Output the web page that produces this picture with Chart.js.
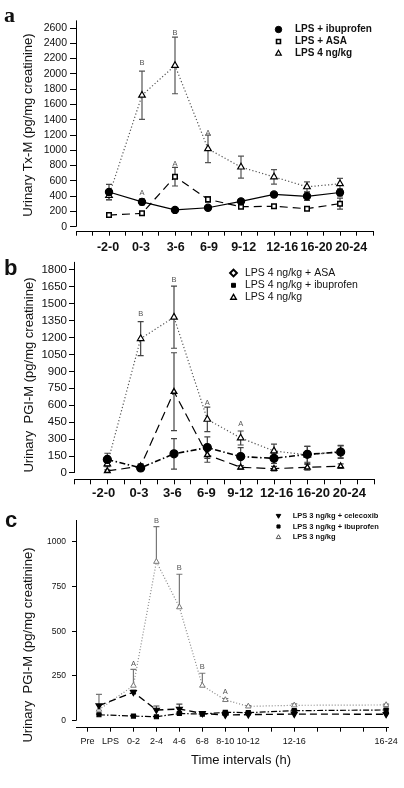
<!DOCTYPE html>
<html>
<head>
<meta charset="utf-8">
<script src="https://cdn.jsdelivr.net/npm/chart.js@4.4.1/dist/chart.umd.min.js"></script>
<style>
  html, body { margin: 0; padding: 0; background: #fff; }
  #wrap { position: relative; width: 404px; height: 788px; overflow: hidden;
          font-family: 'Liberation Sans', Arial, sans-serif; color: #111; }
  canvas { position: absolute; left: 0; top: 0; width: 404px; height: 788px; }
  .panel { position: absolute; font-weight: bold; font-size: 22px; line-height: 1; }
  .ytitle { position: absolute; font-size: 13px; white-space: pre; line-height: 1;
            transform: translate(-50%, -50%) rotate(-90deg); }
  .xtitle { position: absolute; font-size: 13px; line-height: 1; white-space: pre;
            transform: translate(-50%, -50%); }
</style>
</head>
<body>
<div id="wrap">
  <canvas id="chartA" width="404" height="788"></canvas>
  <canvas id="chartB" width="404" height="788"></canvas>
  <canvas id="chartC" width="404" height="788"></canvas>

  <div class="panel" style="left:4px;top:4px;font-family:'Liberation Serif',serif;">a</div>
  <div class="panel" style="left:4px;top:257px;">b</div>
  <div class="panel" style="left:5px;top:509px;">c</div>

  <div class="ytitle" style="left:27px;top:125px;">Urinary Tx-M (pg/mg creatinine)</div>
  <div class="ytitle" style="left:28px;top:375px;">Urinary  PGI-M (pg/mg creatinine)</div>
  <div class="ytitle" style="left:27px;top:645px;">Urinary  PGI-M (pg/mg creatinine)</div>
  <div class="xtitle" style="left:241px;top:759px;">Time intervals (h)</div>
</div>

<script>
const FONT = "'Liberation Sans', Arial, sans-serif";

// ── a : urinary Tx-M ─────────────────────────────────────────
const intervalsAB = ['-2-0', '0-3', '3-6', '6-9', '9-12', '12-16', '16-20', '20-24'];
const aLabelPos = [-0.03, 0.97, 2.02, 3.03, 4.08, 5.25, 6.29, 7.34];
const aIbu     = [455, 325, 220, 248, 332, 422, 398, 448];
const aIbuErr  = [100, 40, 15, 25, 25, 20, 55, 45];
const aAsa     = [152, 175, 655, 358, 262, 268, 236, 302];
const aAsaErr  = [15, 15, 122, 35, 20, 15, 15, 72];
const aLps     = [410, 1720, 2110, 1020, 780, 652, 522, 562];
const aLpsErr  = [60, 315, 370, 180, 145, 95, 65, 70];
const aTicksY  = [0, 200, 400, 600, 800, 1000, 1200, 1400, 1600, 1800, 2000, 2200, 2400, 2600];
const aLetters = [
  { x: 1, y: 2140, t: 'B' }, { x: 2, y: 2530, t: 'B' }, { x: 3, y: 1230, t: 'A' },
  { x: 2, y: 820, t: 'A' },  { x: 1, y: 437, t: 'A' },
];

// ── b : urinary PGI-M, 4 ng/kg ───────────────────────────────
const bLabelPos = [-0.11, 0.95, 1.95, 2.97, 3.99, 5.08, 6.18, 7.26];
const bAsa     = [18, 60, 720, 160, 50, 38, 50, 60];
const bAsaErr  = [10, 20, 345, 65, 15, 20, 25, 20];
const bIbu     = [120, 45, 170, 225, 145, 130, 165, 185];
const bIbuErr  = [55, 25, 135, 95, 80, 45, 70, 55];
const bLps     = [80, 1190, 1380, 475, 310, 195, 160, 190];
const bLpsErr  = [25, 150, 275, 108, 62, 60, 75, 55];
const bTicksY  = [0, 150, 300, 450, 600, 750, 900, 1050, 1200, 1350, 1500, 1650, 1800];
const bLetters = [
  { x: 1, y: 1406, t: 'B' }, { x: 2, y: 1710, t: 'B' },
  { x: 3, y: 617, t: 'A' },  { x: 4, y: 434, t: 'A' },
];

// ── c : urinary PGI-M, 3 ng/kg (x in hours) ──────────────────
const cHours      = [-1, 2, 4, 6, 8, 10, 12, 16, 24];
const cCele       = [84, 159, 60, 65, 41, 32, 34, 37, 36];
const cCeleErr    = [0, 12, 22, 28, 5, 5, 5, 6, 5];
const cIbu        = [33, 26, 22, 40, 37, 47, 45, 56, 60];
const cIbuErr     = [4, 4, 4, 6, 4, 5, 5, 6, 6];
const cLps        = [62, 196, 888, 634, 196, 116, 80, 86, 88];
const cLpsErr     = [85, 91, 196, 184, 69, 8, 5, 8, 5];
const cTicksY     = [0, 250, 500, 750, 1000];
const cLabelHours = [-2, 0, 2, 4, 6, 8, 10, 12, 16, 24];
const cLabelText  = ['Pre', 'LPS', '0-2', '2-4', '4-6', '6-8', '8-10', '10-12', '12-16', '16-24'];
const cLetters = [
  { x: 2, y: 315, t: 'A' }, { x: 4, y: 1118, t: 'B' }, { x: 6, y: 853, t: 'B' },
  { x: 8, y: 302, t: 'B' }, { x: 10, y: 159, t: 'A' },
];

const idxAB = intervalsAB.map((_, i) => i);
const pts = (xs, ys) => ys.map((y, i) => ({ x: xs[i], y }));

// tick marks (no text) + text ticks (no mark)
function xTickSet(marks, labelPos, labels) {
  const t = marks.map(v => ({ value: v }));
  if (labelPos) labelPos.forEach((v, i) => t.push({ value: v, text: labels[i] }));
  return t.sort((p, q) => p.value - q.value);
}
const abMarks = [];
for (let v = -1; v <= 8; v += 0.5) abMarks.push(v);
const cMarks = [];
for (let v = -2; v <= 24; v += 2) cMarks.push(v);

// ── plugins ──────────────────────────────────────────────────
const axisLines = {
  id: 'axisLines',
  beforeDatasetsDraw(chart) {
    const { ctx, chartArea: a, scales: { y } } = chart;
    ctx.save();
    ctx.strokeStyle = '#000';
    ctx.lineWidth = 1;
    ctx.beginPath();
    const lx = Math.round(a.left) + 0.5;
    ctx.moveTo(lx, a.top);
    ctx.lineTo(lx, y.getPixelForValue(0));
    const by = Math.round(a.bottom) + 0.5;
    ctx.moveTo(a.left, by);
    ctx.lineTo(a.right, by);
    ctx.stroke();
    ctx.restore();
  }
};

const errorBars = {
  id: 'errorBars',
  beforeDatasetsDraw(chart) {
    const { ctx, scales: { x, y } } = chart;
    ctx.save();
    chart.data.datasets.forEach(ds => {
      if (!ds.err) return;
      ctx.strokeStyle = ds.errColor || '#444';
      ctx.lineWidth = 1.2;
      ds.data.forEach((p, i) => {
        const e = ds.err[i];
        if (!e) return;
        const px = x.getPixelForValue(p.x);
        const top = y.getPixelForValue(p.y + e);
        const bot = y.getPixelForValue(ds.upOnly ? p.y : p.y - e);
        ctx.beginPath();
        ctx.moveTo(px, top); ctx.lineTo(px, bot);
        ctx.moveTo(px - 3, top); ctx.lineTo(px + 3, top);
        if (!ds.upOnly) { ctx.moveTo(px - 3, bot); ctx.lineTo(px + 3, bot); }
        ctx.stroke();
      });
    });
    ctx.restore();
  }
};

function miniLegend(cfg) {
  return {
    id: 'miniLegend',
    afterDraw(chart) {
      const ctx = chart.ctx;
      ctx.save();
      ctx.font = cfg.font;
      ctx.textBaseline = 'middle';
      cfg.items.forEach((it, i) => {
        const yy = cfg.y + i * cfg.dy;
        ctx.fillStyle = it.fill;
        ctx.strokeStyle = it.stroke;
        ctx.lineWidth = it.lw;
        Chart.helpers.drawPoint(ctx, { pointStyle: it.style, radius: it.r, rotation: it.rot || 0, borderWidth: it.lw }, cfg.mx, yy);
        ctx.fillStyle = '#111';
        ctx.fillText(it.label, cfg.tx, yy);
      });
      ctx.restore();
    }
  };
}

function sigLetters(items, font) {
  return {
    id: 'sigLetters',
    afterDatasetsDraw(chart) {
      const { ctx, scales: { x, y } } = chart;
      ctx.save();
      ctx.font = font;
      ctx.fillStyle = '#555';
      ctx.textAlign = 'center';
      ctx.textBaseline = 'middle';
      items.forEach(it => ctx.fillText(it.t, x.getPixelForValue(it.x), y.getPixelForValue(it.y)));
      ctx.restore();
    }
  };
}

function serie(xs, ys, err, o) {
  return {
    data: pts(xs, ys), err, upOnly: o.upOnly, errColor: o.errColor,
    borderColor: o.line || '#000', borderWidth: o.bw || 1.2, borderDash: o.dash || [],
    pointStyle: o.style, pointRadius: o.r, pointRotation: o.rot || 0,
    pointBackgroundColor: o.fill, pointBorderColor: o.stroke || '#000', pointBorderWidth: o.pbw || 1.2,
    fill: false, tension: 0,
  };
}

function makeChart(id, c) {
  return new Chart(document.getElementById(id), {
    type: 'line',
    data: { datasets: c.datasets },
    options: {
      responsive: false, animation: false, events: [],
      layout: { padding: c.padding },
      plugins: { legend: { display: false }, tooltip: { enabled: false } },
      scales: {
        x: {
          type: 'linear', min: c.xMin, max: c.xMax,
          afterBuildTicks: s => { s.ticks = c.xTicks.map(t => ({ ...t })); },
          afterFit: s => { s.height = 30; },
          ticks: { autoSkip: false, maxRotation: 0, minRotation: 0, padding: c.xPad, color: '#111',
                   font: c.xFont, callback: (v, i, ticks) => ticks[i].text || '' },
          grid: { drawOnChartArea: false, tickLength: 5, lineWidth: 1,
                  color: ctx => (ctx.tick && ctx.tick.text && !c.xMarkText) ? 'rgba(0,0,0,0)' : '#000' },
          border: { display: false },
        },
        y: {
          min: c.yMin, max: c.yMax,
          afterBuildTicks: s => { s.ticks = c.yTicks.map(v => ({ value: v })); },
          afterFit: s => { s.width = c.yWidth; },
          ticks: { autoSkip: false, padding: c.yPad, color: '#111', font: c.yFont, callback: v => String(v) },
          grid: { drawOnChartArea: false, tickLength: c.yTick, color: '#000', lineWidth: 1 },
          border: { display: false },
        },
      },
    },
    plugins: [axisLines, errorBars, miniLegend(c.legend), sigLetters(c.letters, c.letterFont)],
  });
}

// ── chart a ──
makeChart('chartA', {
  datasets: [
    serie(idxAB, aIbu, aIbuErr, { style: 'circle', r: 3.6, fill: '#000' }),
    serie(idxAB, aAsa, aAsaErr, { style: 'rect', r: 3.2, fill: '#fff', dash: [8, 5], pbw: 1.5 }),
    serie(idxAB, aLps, aLpsErr, { style: 'triangle', r: 3.8, fill: '#fff', line: '#555', dash: [1.2, 2.2], errColor: '#555' }),
  ],
  padding: { left: 0, right: 31, top: 20.4, bottom: 527.3 },
  xMin: -1, xMax: 8, xTicks: xTickSet(abMarks, aLabelPos, intervalsAB), xPad: 4,
  xFont: { family: FONT, size: 12.5, weight: 'bold' },
  yMin: -52, yMax: 2700, yTicks: aTicksY, yWidth: 76, yPad: 3, yTick: 6,
  yFont: { family: FONT, size: 10.5 },
  legend: {
    font: 'bold 10px ' + FONT, mx: 278.5, tx: 295, y: 29.5, dy: 12,
    items: [
      { label: 'LPS + ibuprofen', style: 'circle', r: 3.2, fill: '#000', stroke: '#000', lw: 1 },
      { label: 'LPS + ASA', style: 'rect', r: 2.8, fill: '#fff', stroke: '#000', lw: 1.6 },
      { label: 'LPS 4 ng/kg', style: 'triangle', r: 3.2, fill: '#fff', stroke: '#000', lw: 1.2 },
    ],
  },
  letters: aLetters, letterFont: '7.5px ' + FONT,
});

// ── chart b ──
makeChart('chartB', {
  datasets: [
    serie(idxAB, bIbu, bIbuErr, { style: 'circle', r: 4, fill: '#000', dash: [6, 2.5, 1.5, 2.5], bw: 1.6 }),
    serie(idxAB, bAsa, bAsaErr, { style: 'triangle', r: 3.2, fill: '#fff', dash: [9, 5], pbw: 1.4 }),
    serie(idxAB, bLps, bLpsErr, { style: 'triangle', r: 3.8, fill: '#fff', line: '#555', dash: [1.2, 2.2], errColor: '#444' }),
  ],
  padding: { left: 0, right: 30, top: 261.9, bottom: 278.7 },
  xMin: -1, xMax: 8, xTicks: xTickSet(abMarks, bLabelPos, intervalsAB), xPad: 1,
  xFont: { family: FONT, size: 13, weight: 'bold' },
  yMin: -56, yMax: 1870, yTicks: bTicksY, yWidth: 74, yPad: 2, yTick: 5,
  yFont: { family: FONT, size: 11.5 },
  legend: {
    font: '10.5px ' + FONT, mx: 233.5, tx: 245, y: 273, dy: 12.3,
    items: [
      { label: 'LPS 4 ng/kg + ASA', style: 'rectRot', r: 3.4, fill: '#fff', stroke: '#000', lw: 2 },
      { label: 'LPS 4 ng/kg + ibuprofen', style: 'rect', r: 2.8, fill: '#000', stroke: '#000', lw: 1 },
      { label: 'LPS 4 ng/kg', style: 'triangle', r: 3.2, fill: '#fff', stroke: '#000', lw: 1.4 },
    ],
  },
  letters: bLetters, letterFont: '7.5px ' + FONT,
});

// ── chart c ──
makeChart('chartC', {
  datasets: [
    serie(cHours, cCele, cCeleErr, { style: 'triangle', rot: 180, r: 3.4, fill: '#000', dash: [7, 4], bw: 1.4, upOnly: true }),
    serie(cHours, cIbu, cIbuErr, { style: 'rect', r: 2.8, fill: '#000', dash: [6, 2, 1.5, 2], bw: 1.2, upOnly: true }),
    serie(cHours, cLps, cLpsErr, { style: 'triangle', r: 3.2, fill: '#fff', stroke: '#777', line: '#888', dash: [1, 2], pbw: 1, upOnly: true, errColor: '#777' }),
  ],
  padding: { left: 0, right: 15, top: 520, bottom: 31.3 },
  xMin: -3, xMax: 24.25, xTicks: xTickSet(cMarks.filter(v => !cLabelHours.includes(v)), cLabelHours, cLabelText),
  xMarkText: true, xPad: 4,
  xFont: { family: FONT, size: 9 },
  yMin: -33.5, yMax: 1121, yTicks: cTicksY, yWidth: 76, yPad: 6, yTick: 4,
  yFont: { family: FONT, size: 8.5 },
  legend: {
    font: 'bold 7.5px ' + FONT, mx: 278.5, tx: 292.7, y: 515.7, dy: 10.8,
    items: [
      { label: 'LPS 3 ng/kg + celecoxib', style: 'triangle', rot: 180, r: 2.6, fill: '#000', stroke: '#000', lw: 1 },
      { label: 'LPS 3 ng/kg + ibuprofen', style: 'rect', r: 2.2, fill: '#000', stroke: '#000', lw: 1 },
      { label: 'LPS 3 ng/kg', style: 'triangle', r: 2.6, fill: '#fff', stroke: '#555', lw: 1 },
    ],
  },
  letters: cLetters, letterFont: '7.5px ' + FONT,
});
</script>
</body>
</html>
